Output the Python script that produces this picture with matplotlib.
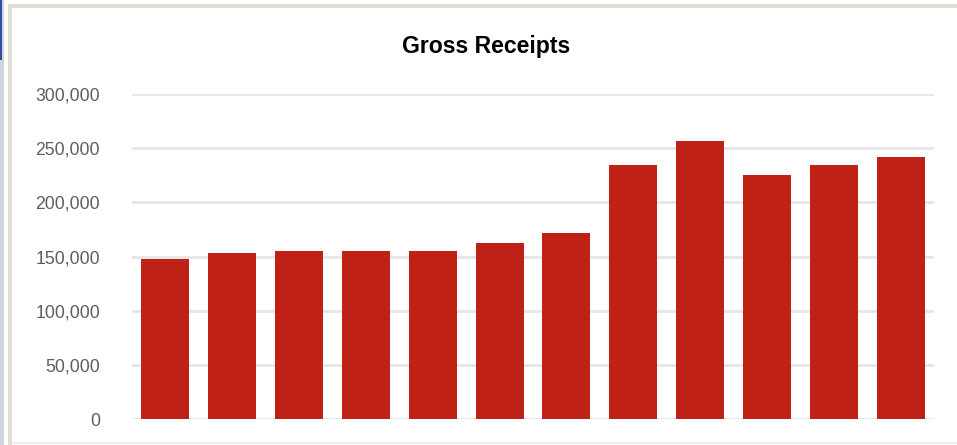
import matplotlib
matplotlib.use("Agg")
import matplotlib.pyplot as plt
from matplotlib.patches import Rectangle
from matplotlib.ticker import FuncFormatter

# gross receipts, one bar per period
periods = list(range(1, 13))
receipts = [148000, 153500, 155500, 155500, 155500, 162500,
            172000, 234500, 256500, 225500, 234500, 242000]

yticks = [0, 50000, 100000, 150000, 200000, 250000, 300000]

plt.rcParams['font.family'] = ['Liberation Sans', 'DejaVu Sans']

W, H = 957, 445
fig = plt.figure(figsize=(W / 100, H / 100), dpi=100)
fig.patch.set_facecolor('white')

# window frame around the chart
def px_rect(x, y, w, h, color):
    fig.patches.append(Rectangle((x / W, 1 - (y + h) / H), w / W, h / H,
                                 transform=fig.transFigure, color=color,
                                 lw=0, zorder=-1))

px_rect(0, 0, 2, 60, '#2b4fa3')
px_rect(0, 60, 2, 385, '#c9d3e6')
px_rect(2, 0, 2, 445, '#d4d4d4')
px_rect(8, 4, W - 8, 4, '#dfded2')
px_rect(8, 4, 4, H - 4, '#dfded2')
px_rect(12, 442, W - 12, 2, '#ececec')

ax = fig.add_axes([132 / W, 1 - 419 / H, (934 - 132) / W, (419 - 94) / H])
ax.bar(periods, receipts, width=0.72, color='#c02116', zorder=3)

ax.set_xlim(0.5, 12.5)
ax.set_ylim(0, 300000)
ax.set_yticks(yticks)
ax.yaxis.set_major_formatter(FuncFormatter(lambda v, p: f'{int(v):,}'))
ax.set_xticks([])
ax.tick_params(axis='y', length=0, pad=23, labelsize=12.7, labelcolor='#5e5e5e')
ax.grid(axis='y', color='#e6e6e6', lw=2, zorder=0)
for s in ax.spines.values():
    s.set_visible(False)

fig.text(486 / W, 1 - 46 / H, 'Gross Receipts', ha='center', va='center',
         fontsize=16.6, fontweight='bold', color='black')

fig.savefig('out.png', dpi=100)
